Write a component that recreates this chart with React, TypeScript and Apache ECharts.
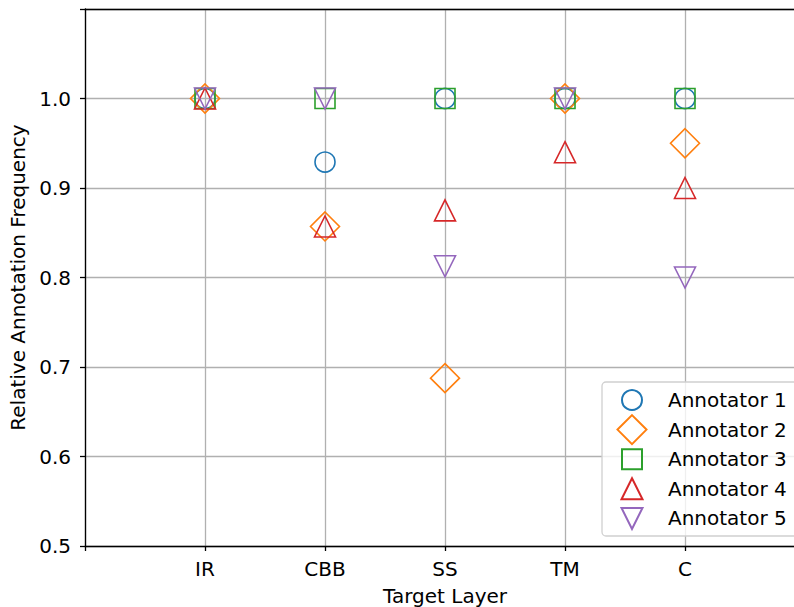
import React, { useEffect, useRef } from "react";
import * as echarts from "echarts";

const categories = ["IR", "CBB", "SS", "TM", "C"];
const seriesNames = ["Annotator 1", "Annotator 2", "Annotator 3", "Annotator 4", "Annotator 5"];
const annotator1 = [1.0, 0.929, 1.0, 1.0, 1.0];
const annotator2 = [1.0, 0.857, 0.6875, 1.0, 0.95];
const annotator3 = [1.0, 1.0, 1.0, 1.0, 1.0];
const annotator4 = [1.0, 0.857, 0.875, 0.94, 0.9];
const annotator5 = [1.0, 1.0, 0.8125, 1.0, 0.8];
const yTicks = [0.5, 0.6, 0.7, 0.8, 0.9, 1.0];

const colors = ["#1f77b4", "#ff7f0e", "#2ca02c", "#d62728", "#9467bd"];
const symbols = ["circle", "diamond", "rect", "triangle", "path://M0,0L2,0L1,2Z"];
const sizes = [20, 29, 20, 21, 21];
const FONT = "DejaVu Sans";
const FS = 20;

export default function App() {
  const ref = useRef<HTMLDivElement>(null);
  useEffect(() => {
    if (!ref.current) return;
    const chart = echarts.init(ref.current, undefined, { renderer: "svg" });
    const all = [annotator1, annotator2, annotator3, annotator4, annotator5];
    const series = all.map((vals, i) => ({
      name: seriesNames[i],
      type: "scatter",
      symbol: symbols[i],
      symbolSize: sizes[i],
      itemStyle: { color: "rgba(0,0,0,0)", borderColor: colors[i], borderWidth: 1.6, opacity: 1 },
      data: vals.map((v, j) => [j + 1, v]),
      z: 3 + i,
    }));
    const iconCenterX = 631;
    const textStartX = 667;
    const legendTop0 = 399;
    const rowGap = 29.6;
    const legends = seriesNames.map((n, i) => ({
      data: [n],
      orient: "vertical",
      left: iconCenterX - sizes[i] / 2,
      top: legendTop0 + i * rowGap - sizes[i] / 2,
      itemWidth: sizes[i],
      itemHeight: sizes[i],
      itemGap: 0,
      padding: 0,
      selectedMode: false,
      textStyle: {
        fontFamily: FONT,
        fontSize: FS,
        color: "#000",
        padding: [0, 0, 0, textStartX - (iconCenterX + sizes[i] / 2) - 5],
      },
      z: 60,
    }));
    chart.setOption({
      animation: false,
      backgroundColor: "#fff",
      textStyle: { fontFamily: FONT },
      grid: { left: 85, top: 9, width: 720, height: 537, containLabel: false, outerBoundsMode: "none" },
      xAxis: [
        {
          type: "value",
          min: 0,
          max: 6,
          interval: 1,
          name: "Target Layer",
          nameLocation: "middle",
          nameGap: 40,
          nameTextStyle: { fontFamily: FONT, fontSize: FS, color: "#000" },
          axisLine: { show: true, onZero: false, lineStyle: { color: "#000", width: 1.3 } },
          axisTick: { show: true, length: 5, lineStyle: { color: "#000", width: 1.3 } },
          axisLabel: {
            fontFamily: FONT,
            fontSize: FS,
            color: "#000",
            margin: 13,
            formatter: (v: number) => (v >= 1 && v <= 5 ? categories[Math.round(v) - 1] : ""),
          },
          splitLine: { show: true, lineStyle: { color: "#b0b0b0", width: 1.3 } },
        },
        {
          type: "value",
          position: "top",
          min: 0,
          max: 6,
          axisLine: { show: true, onZero: false, lineStyle: { color: "#000", width: 1.3 } },
          axisTick: { show: false },
          axisLabel: { show: false },
          splitLine: { show: false },
        },
      ],
      yAxis: {
        type: "value",
        min: yTicks[0],
        max: 1.1,
        interval: 0.1,
        name: "Relative Annotation Frequency",
        nameLocation: "middle",
        nameGap: 56,
        nameTextStyle: { fontFamily: FONT, fontSize: FS, color: "#000" },
        axisLine: { show: true, onZero: false, lineStyle: { color: "#000", width: 1.3 } },
        axisTick: { show: true, length: 5, lineStyle: { color: "#000", width: 1.3 } },
        axisLabel: {
          fontFamily: FONT,
          fontSize: FS,
          color: "#000",
          margin: 14,
          formatter: (v: number) => (v <= 1.0001 ? v.toFixed(1) : ""),
        },
        splitLine: { show: true, lineStyle: { color: "#b0b0b0", width: 1.3 } },
      },
      graphic: [
        {
          type: "rect",
          shape: { x: 602, y: 382, width: 200, height: 154, r: 4 },
          style: { fill: "rgba(255,255,255,0.8)", stroke: "#d0d0d0", lineWidth: 1.3 },
          z: 50,
        },
      ],
      legend: legends,
      series,
    });
    return () => chart.dispose();
  }, []);
  return (
    <div
      ref={ref}
      style={{ position: "fixed", left: 0, top: 0, width: 794, height: 607 }}
    />
  );
}
